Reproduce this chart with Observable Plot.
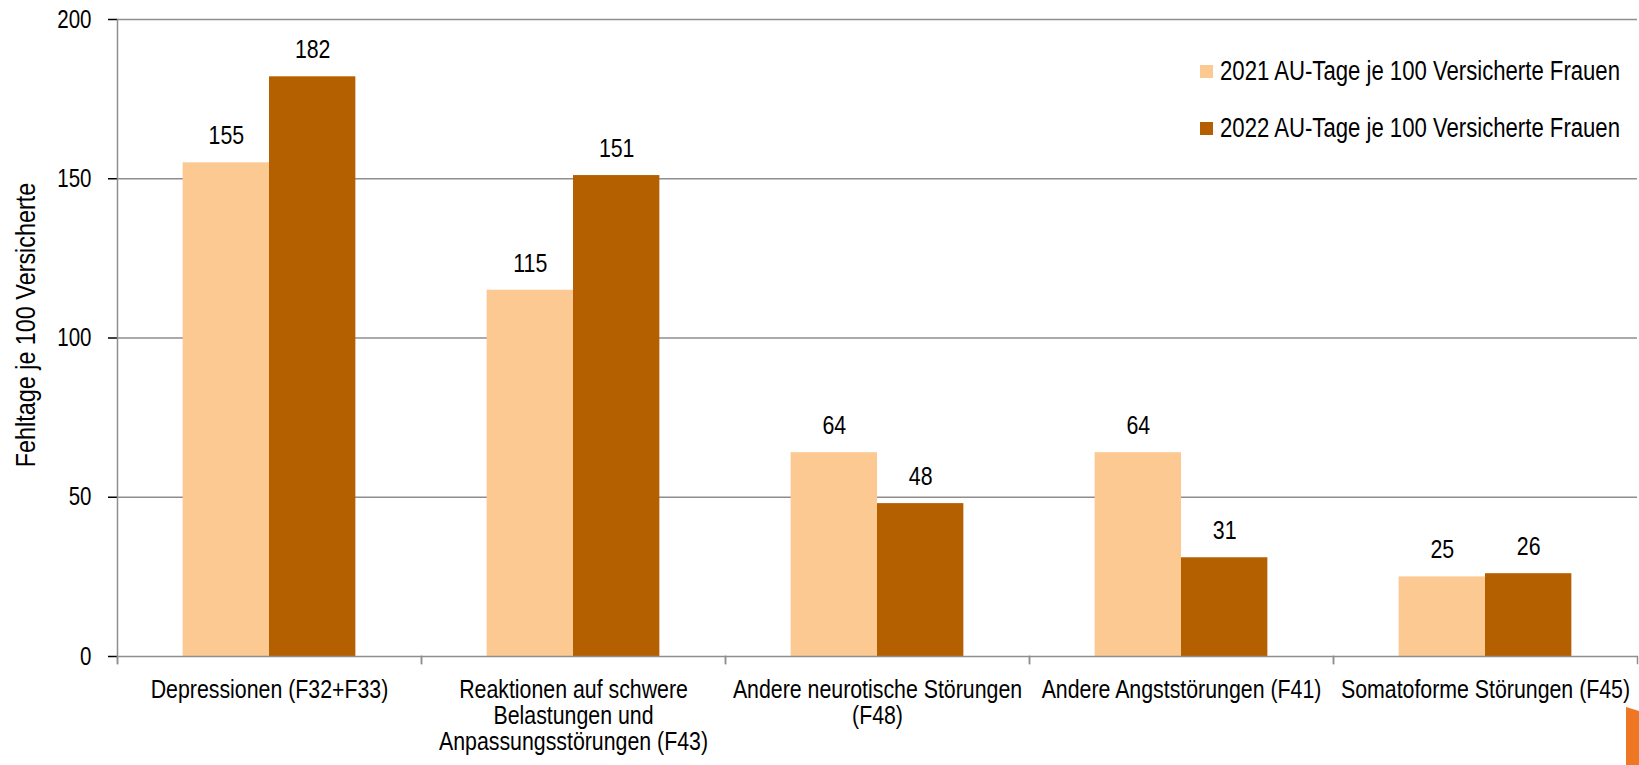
<!DOCTYPE html>
<html><head><meta charset="utf-8">
<script src="https://cdn.jsdelivr.net/npm/d3@7"></script>
<script src="https://cdn.jsdelivr.net/npm/@observablehq/plot@0.6"></script>
<style>
html,body{margin:0;padding:0;background:#fff;}
#wrap{position:relative;width:1639px;height:765px;overflow:hidden;background:#fff;}
#legend{position:absolute;left:1200px;top:58px;}
.item{display:flex;align-items:center;height:26px;margin-bottom:31px;white-space:nowrap;}
.sw{width:13px;height:13px;margin-right:7px;flex:none;}
.lt{font-size:27px;line-height:26px;color:#000;display:inline-block;transform-origin:left center;}
#deco{position:absolute;left:1626px;top:707px;width:13px;height:58px;background:#EF7622;clip-path:polygon(0 0,100% 4px,100% 100%,0 100%);}
</style></head><body><div id="wrap"></div>
<script>
const categories = ["Depressionen (F32+F33)", "Reaktionen auf schwere Belastungen und Anpassungsstörungen (F43)", "Andere neurotische Störungen (F48)", "Andere Angststörungen (F41)", "Somatoforme Störungen (F45)"];
const categoryLabels = ["Depressionen (F32+F33)", "Reaktionen auf schwere\nBelastungen und\nAnpassungsstörungen (F43)", "Andere neurotische Störungen\n(F48)", "Andere Angststörungen (F41)", "Somatoforme Störungen (F45)"];
const years = ["2021", "2022"];
const seriesNames = ["2021 AU-Tage je 100 Versicherte Frauen", "2022 AU-Tage je 100 Versicherte Frauen"];
const values2021 = [155, 115, 64, 64, 25];
const values2022 = [182, 151, 48, 31, 26];
const yTicks = [0, 50, 100, 150, 200];
const yLabel = "Fehltage je 100 Versicherte";
const colors = ["#FDC993", "#B45F00"];
const GRID = "#8e8e8e";

function hasFont(name) {
  const c = document.createElement("canvas").getContext("2d");
  const s = "Depressionen AU-Tage 2021 Wmi";
  c.font = "40px monospace"; const w1 = c.measureText(s).width;
  c.font = `40px '${name}', monospace`; const w2 = c.measureText(s).width;
  return Math.abs(w1 - w2) > 0.5;
}
const narrow = hasFont("Liberation Sans Narrow") ? "Liberation Sans Narrow" : (hasFont("Arial Narrow") ? "Arial Narrow" : null);
const FONT = narrow ? `'${narrow}'` : "'Liberation Sans', Arial, sans-serif";
const K = narrow ? 1 : 0.82;

const data = categories.flatMap((c, i) => [
  {cat: c, year: years[0], value: values2021[i]},
  {cat: c, year: years[1], value: values2022[i]}
]);

const plot = Plot.plot({
  width: 1639, height: 765,
  marginLeft: 115, marginRight: 1, marginTop: 19, marginBottom: 109,
  style: {fontFamily: FONT, background: "transparent", overflow: "visible", color: "#000"},
  fx: {domain: categories, padding: 0, label: null},
  x: {domain: years, paddingInner: 0, paddingOuter: 0.76, axis: null, round: false},
  y: {domain: [0, 200], label: null},
  color: {domain: years, range: colors},
  marks: [
    Plot.ruleY(yTicks.slice(1), {stroke: GRID, strokeWidth: 1.5}),
    Plot.barY(data, {fx: "cat", x: "year", y: "value", fill: "year"}),
    Plot.ruleY([0], {stroke: GRID, strokeWidth: 1.5}),
    Plot.text(data, {fx: "cat", x: "year", y: "value", text: d => String(d.value), dy: -27, fontSize: 26, fill: "#000"}),
    Plot.axisY({ticks: yTicks, tickSize: 9, tickPadding: 17, fontSize: 25, label: yLabel, labelAnchor: "center", labelArrow: "none", labelOffset: 103}),
    Plot.axisFx({anchor: "bottom", tickSize: 0, tickPadding: 23, fontSize: 26, lineHeight: 1, tickFormat: c => categoryLabels[categories.indexOf(c)], label: null}),
    Plot.frame({anchor: "left", facetAnchor: "left", stroke: GRID, strokeWidth: 1.5, insetBottom: -7}),
    Plot.frame({anchor: "left", stroke: GRID, strokeWidth: 1.5, insetTop: 637, insetBottom: -7}),
    Plot.frame({anchor: "right", stroke: GRID, strokeWidth: 1.5, insetTop: 637, insetBottom: -7})
  ]
});

const wrap = document.getElementById("wrap");
wrap.appendChild(plot);

// axis styling
d3.select(plot).selectAll('g[aria-label="y-axis tick"]').attr("stroke", GRID).attr("stroke-width", 1.5);
d3.select(plot).selectAll('g[aria-label="y-axis label"]').attr("font-size", 28.5)
  .attr("transform", function() { return (this.getAttribute("transform") || "") + " translate(0,-13)"; });

// condense horizontal glyphs if no narrow face is installed
if (K !== 1) {
  plot.querySelectorAll("text").forEach(t => {
    const ts = t.querySelectorAll("tspan");
    const els = ts.length ? Array.from(ts) : [t];
    els.forEach(e => {
      const L = e.getComputedTextLength();
      if (L > 0) { e.setAttribute("textLength", L * K); e.setAttribute("lengthAdjust", "spacingAndGlyphs"); }
    });
  });
}

// legend
const legend = document.createElement("div");
legend.id = "legend";
seriesNames.forEach((name, i) => {
  const item = document.createElement("div"); item.className = "item";
  const sw = document.createElement("div"); sw.className = "sw"; sw.style.background = colors[i];
  const lt = document.createElement("span"); lt.className = "lt"; lt.textContent = name;
  lt.style.fontFamily = FONT; if (K !== 1) lt.style.transform = `scaleX(${K})`;
  item.appendChild(sw); item.appendChild(lt); legend.appendChild(item);
});
wrap.appendChild(legend);
const deco = document.createElement("div"); deco.id = "deco"; wrap.appendChild(deco);
</script>
</body></html>
